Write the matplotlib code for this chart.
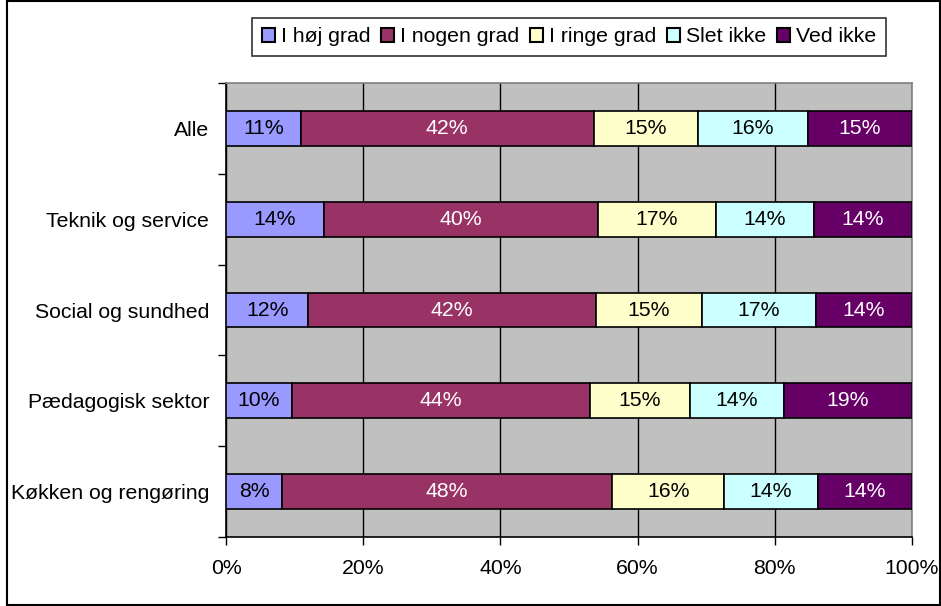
import matplotlib
matplotlib.use("Agg")
import matplotlib.pyplot as plt
from matplotlib.patches import Rectangle
import numpy as np

plt.rcParams["font.family"] = ["Liberation Sans", "DejaVu Sans"]

groups = ["Alle", "Teknik og service", "Social og sundhed",
          "Pædagogisk sektor", "Køkken og rengøring"]
series = ["I høj grad", "I nogen grad", "I ringe grad", "Slet ikke", "Ved ikke"]
values = {
    "I høj grad":   [10.9, 14.3, 12.0, 9.6, 8.2],
    "I nogen grad": [42.7, 39.9, 41.9, 43.5, 48.1],
    "I ringe grad": [15.2, 17.2, 15.5, 14.5, 16.3],
    "Slet ikke":    [16.0, 14.3, 16.6, 13.7, 13.7],
    "Ved ikke":     [15.2, 14.3, 14.0, 18.7, 13.7],
}
labels = {
    "I høj grad":   ["11%", "14%", "12%", "10%", "8%"],
    "I nogen grad": ["42%", "40%", "42%", "44%", "48%"],
    "I ringe grad": ["15%", "17%", "15%", "15%", "16%"],
    "Slet ikke":    ["16%", "14%", "17%", "14%", "14%"],
    "Ved ikke":     ["15%", "14%", "14%", "19%", "14%"],
}
colors = ["#9999FF", "#993366", "#FFFFCC", "#CCFFFF", "#660066"]
txt_colors = ["black", "white", "black", "black", "white"]
FS = 15.3

fig = plt.figure(figsize=(9.41, 6.06), dpi=100, facecolor="white")
fig.patches.append(Rectangle((7 / 941, 0.001), 1 - 8 / 941, 0.997, transform=fig.transFigure,
                             fill=False, edgecolor="black", linewidth=1.5))
ax = fig.add_axes([226 / 941, 69 / 606, 686 / 941, 454 / 606])
ax.set_facecolor("#C0C0C0")

y = np.arange(len(groups))
left = np.zeros(len(groups))
for s, c, tc in zip(series, colors, txt_colors):
    v = np.array(values[s])
    ax.barh(y, v / 100, left=left / 100, height=0.385, color=c, edgecolor="black",
            linewidth=1.2, label=s, zorder=3)
    for yi, l0, vi, lab in zip(y, left, v, labels[s]):
        ax.text((l0 + vi / 2) / 100, yi, lab, ha="center", va="center",
                fontsize=FS, color=tc, zorder=4)
    left += v

ax.set_xlim(0, 1)
ax.set_ylim(len(groups) - 0.5, -0.5)
ax.set_xticks(np.linspace(0, 1, 6))
ax.set_xticklabels([f"{int(t)}%" for t in np.linspace(0, 100, 6)], fontsize=FS)
ax.set_yticks(y)
ax.set_yticklabels(groups, fontsize=FS)
ax.set_yticks(np.arange(len(groups) + 1) - 0.5, minor=True)
ax.tick_params(axis="y", which="major", length=0, pad=12)
ax.tick_params(axis="y", which="minor", length=6, direction="out", width=1)
ax.tick_params(axis="x", length=6, direction="out", width=1, pad=10)
ax.grid(True, axis="x", color="black", linewidth=1, zorder=1)
ax.set_axisbelow(True)
for side in ["top", "right"]:
    ax.spines[side].set_color("#808080")
    ax.spines[side].set_linewidth(1.2)
for side in ["left", "bottom"]:
    ax.spines[side].set_color("black")
    ax.spines[side].set_linewidth(1.2)

leg = fig.legend(loc="center", bbox_to_anchor=(569 / 941, 1 - 37 / 606), ncol=5,
                 fontsize=FS, frameon=True, fancybox=False, handlelength=0.6,
                 handleheight=0.6, handletextpad=0.3, columnspacing=0.5,
                 borderpad=0.45)
leg.get_frame().set_edgecolor("black")
leg.get_frame().set_linewidth(1.2)
for h in leg.legend_handles:
    h.set_linewidth(1.5)

fig.savefig("out.png", dpi=100, facecolor="white")
